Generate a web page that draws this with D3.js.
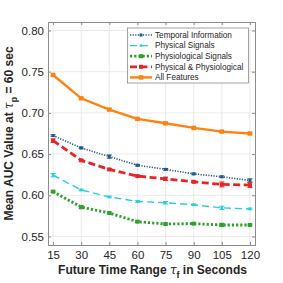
<!DOCTYPE html>
<html>
<head>
<meta charset="utf-8">
<script src="https://cdn.jsdelivr.net/npm/d3@7"></script>
<style>
  body { margin: 0; background: #fff; }
  svg { font-family: "Liberation Sans", Arial, sans-serif; }
</style>
</head>
<body>
<svg id="chart"></svg>
<script>
const width = 283
const height = 283

// data
const horizons = [15, 30, 45, 60, 75, 90, 105, 120]
const yTicks = [0.55, 0.60, 0.65, 0.70, 0.75, 0.80]

const temporal = [0.6725, 0.6575, 0.647, 0.6365, 0.6315, 0.626, 0.6225, 0.618]
const physical = [0.6245, 0.6065, 0.598, 0.5925, 0.591, 0.5885, 0.5848, 0.5835]
const physiological = [0.6045, 0.5857, 0.5785, 0.568, 0.5652, 0.5656, 0.564, 0.564]
const physPhysio = [0.6664, 0.6424, 0.6314, 0.6233, 0.620, 0.6164, 0.6132, 0.6124]
const allFeatures = [0.746, 0.7177, 0.704, 0.6927, 0.6874, 0.6818, 0.6773, 0.675]

const temporalErr = [0.001, 0.001, 0.002, 0.001, 0.001, 0.001, 0.001, 0.002]
const physicalErr = [0.002, 0.001, 0.001, 0.001, 0.0015, 0.001, 0.002, 0.001]
const physiologicalErr = [0.001, 0.002, 0.001, 0.001, 0.001, 0.001, 0.002, 0.001]
const physPhysioErr = [0.002, 0.001, 0.001, 0.001, 0.002, 0.001, 0.003, 0.003]
const allFeaturesErr = [0.001, 0.001, 0.001, 0.001, 0.001, 0.001, 0.001, 0.001]

const series = [
  { name: 'Temporal Information', values: temporal, err: temporalErr, color: '#1f5a8c', width: 1.6, dash: '1.2,1.4', marker: 3 },
  { name: 'Physical Signals', values: physical, err: physicalErr, color: '#22cfdc', width: 1.4, dash: '7,4', marker: 2.4 },
  { name: 'Physiological Signals', values: physiological, err: physiologicalErr, color: '#2fa02c', width: 2.8, dash: '2.2,2', marker: 4 },
  { name: 'Physical & Physiological', values: physPhysio, err: physPhysioErr, color: '#e8242a', width: 2.8, dash: '7,3.5', marker: 4 },
  { name: 'All Features', values: allFeatures, err: allFeaturesErr, color: '#ff8210', width: 2.4, dash: null, marker: 4.5 }
]

const svg = d3.select('#chart')
  .attr('width', width)
  .attr('height', height)

const mLeft = 48, mRight = 255, mTop = 22, mBottom = 245

const x = d3.scaleLinear().domain([12.3, 122.7]).range([mLeft, mRight])
const y = d3.scaleLinear().domain([0.5397, 0.8103]).range([mBottom, mTop])

// grid
svg.append('g')
  .selectAll('line')
  .data(horizons)
  .enter().append('line')
  .attr('x1', d => x(d)).attr('x2', d => x(d))
  .attr('y1', mTop).attr('y2', mBottom)
  .attr('stroke', '#e6e6e6').attr('stroke-width', 0.8)

svg.append('g')
  .selectAll('line')
  .data(yTicks)
  .enter().append('line')
  .attr('y1', d => y(d)).attr('y2', d => y(d))
  .attr('x1', mLeft).attr('x2', mRight)
  .attr('stroke', '#e6e6e6').attr('stroke-width', 0.8)

// axes (matlab style, ticks inward, box on)
const xAxis = svg.append('g')
  .attr('transform', `translate(0,${mBottom})`)
  .call(d3.axisBottom(x).tickValues(horizons).tickSize(-3).tickPadding(6).tickFormat(d3.format('d')))
const xTop = svg.append('g')
  .attr('transform', `translate(0,${mTop})`)
  .call(d3.axisTop(x).tickValues(horizons).tickSize(-3).tickFormat(''))
const yAxis = svg.append('g')
  .attr('transform', `translate(${mLeft},0)`)
  .call(d3.axisLeft(y).tickValues(yTicks).tickSize(-3).tickPadding(4).tickFormat(d3.format('.2f')))
const yRight = svg.append('g')
  .attr('transform', `translate(${mRight},0)`)
  .call(d3.axisRight(y).tickValues(yTicks).tickSize(-3).tickFormat(''))

;[xAxis, xTop, yAxis, yRight].forEach(g => {
  g.select('.domain').attr('stroke', '#8c8c8c').attr('stroke-width', 1)
  g.selectAll('.tick line').attr('stroke', '#8c8c8c')
  g.selectAll('.tick text')
    .attr('fill', '#262626')
    .style('font-size', '11.5px')
    .style('font-family', '"Liberation Sans", Arial, sans-serif')
})

// lines
const line = d3.line()
  .x((d, i) => x(horizons[i]))
  .y(d => y(d))

series.forEach(s => {
  const g = svg.append('g')
  g.append('path')
    .datum(s.values)
    .attr('d', line)
    .attr('fill', 'none')
    .attr('stroke', s.color)
    .attr('stroke-width', s.width)
    .attr('stroke-dasharray', s.dash)

  // error bars
  s.values.forEach((v, i) => {
    const cx = x(horizons[i])
    g.append('line')
      .attr('x1', cx).attr('x2', cx)
      .attr('y1', y(v - s.err[i])).attr('y2', y(v + s.err[i]))
      .attr('stroke', s.color).attr('stroke-width', 1)
    ;[v - s.err[i], v + s.err[i]].forEach(e => {
      g.append('line')
        .attr('x1', cx - 2.5).attr('x2', cx + 2.5)
        .attr('y1', y(e)).attr('y2', y(e))
        .attr('stroke', s.color).attr('stroke-width', 1)
    })
  })

  g.selectAll('rect')
    .data(s.values)
    .enter().append('rect')
    .attr('x', (d, i) => x(horizons[i]) - s.marker / 2)
    .attr('y', d => y(d) - s.marker / 2)
    .attr('width', s.marker)
    .attr('height', s.marker)
    .attr('fill', s.color)
})

// legend
const lg = svg.append('g').attr('transform', 'translate(127.5,28)')
lg.append('rect')
  .attr('width', 121).attr('height', 55)
  .attr('fill', '#fff')
  .attr('stroke', '#8c8c8c').attr('stroke-width', 0.8)

series.forEach((s, i) => {
  const ly = 7 + i * 10.6
  lg.append('line')
    .attr('x1', 2.5).attr('x2', 24.5)
    .attr('y1', ly).attr('y2', ly)
    .attr('stroke', s.color)
    .attr('stroke-width', s.width)
    .attr('stroke-dasharray', s.dash)
  lg.append('rect')
    .attr('x', 13.5 - s.marker / 2).attr('y', ly - s.marker / 2)
    .attr('width', s.marker).attr('height', s.marker)
    .attr('fill', s.color)
  lg.append('text')
    .attr('x', 27.5).attr('y', ly)
    .attr('dy', '0.35em')
    .attr('fill', '#262626')
    .style('font-size', '8.2px')
    .text(s.name)
})

// axis titles
const xt = svg.append('text')
  .attr('x', (mLeft + mRight) / 2 + 1).attr('y', 274)
  .attr('text-anchor', 'middle')
  .attr('fill', '#262626')
  .style('font-size', '12px')
  .style('font-weight', 'bold')
xt.append('tspan').text('Future Time Range ')
xt.append('tspan').style('font-style', 'italic').style('font-weight', 'normal').style('font-family', '"DejaVu Serif", serif').text('τ')
xt.append('tspan').attr('dy', 4).style('font-size', '9px').text('f')
xt.append('tspan').attr('dy', -4).text(' in Seconds')

const yt = svg.append('text')
  .attr('transform', `translate(13,${(mTop + mBottom) / 2}) rotate(-90)`)
  .attr('text-anchor', 'middle')
  .attr('fill', '#262626')
  .style('font-size', '12px')
  .style('font-weight', 'bold')
yt.append('tspan').text('Mean AUC Value at ')
yt.append('tspan').style('font-style', 'italic').style('font-weight', 'normal').style('font-family', '"DejaVu Serif", serif').text('τ')
yt.append('tspan').attr('dy', 4).style('font-size', '9px').text('p')
yt.append('tspan').attr('dy', -4).text(' = 60 sec')
</script>
</body>
</html>
